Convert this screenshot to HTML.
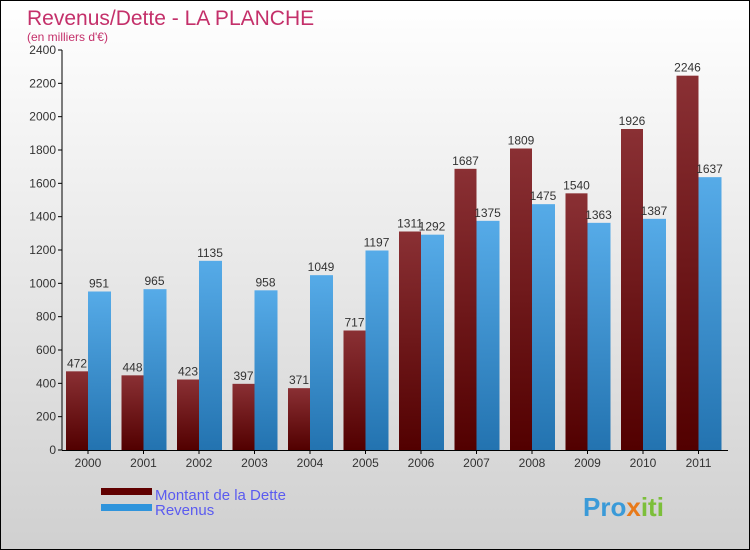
<!DOCTYPE html>
<html><head><meta charset="utf-8"><style>
body{margin:0}
#c{position:relative;width:748px;height:548px;border:1px solid #000;background:linear-gradient(#ffffff,#d0d0d0);font-family:"Liberation Sans",sans-serif;overflow:hidden}
</style></head><body>
<div id="c">
<svg id="s" width="748" height="548">
<defs>
<linearGradient id="gd" x1="0" y1="0" x2="0" y2="1"><stop offset="0" stop-color="#8a3034"/><stop offset="1" stop-color="#520000"/></linearGradient>
<linearGradient id="gr" x1="0" y1="0" x2="0" y2="1"><stop offset="0" stop-color="#56abe8"/><stop offset="1" stop-color="#2373b0"/></linearGradient>
</defs>
<text x="26" y="24" font-size="21" fill="#c4306a">Revenus/Dette - LA PLANCHE</text>
<text x="26" y="40" font-size="12" fill="#c4306a">(en milliers d'€)</text>
<g id="plot"></g>
<rect x="100" y="487" width="51" height="7" fill="#600000"/>
<rect x="100" y="503" width="51" height="7" fill="#2f94dc"/>
<text x="154" y="499" font-size="15" fill="#5b5bf0">Montant de la Dette</text>
<text x="154" y="514" font-size="15" fill="#5b5bf0">Revenus</text>
<text x="582" y="515" font-size="26" font-weight="bold" fill="#3a9ad8">Pro<tspan fill="#e87a1a">x</tspan><tspan fill="#7cbf3a">iti</tspan></text>
</svg>
</div>
<script>
const years=["2000","2001","2002","2003","2004","2005","2006","2007","2008","2009","2010","2011"];
const dette=[472,448,423,397,371,717,1311,1687,1809,1540,1926,2246];
const revenus=[951,965,1135,958,1049,1197,1292,1375,1475,1363,1387,1637];
const ticks=[0,200,400,600,800,1000,1200,1400,1600,1800,2000,2200,2400];
const NS="http://www.w3.org/2000/svg";
const g=document.getElementById('plot');
const y=v=>449-v*(400/2400);
const x0=65,step=55.5;
function mk(t,a,txt){const e=document.createElementNS(NS,t);for(const k in a)e.setAttribute(k,a[k]);if(txt!==undefined)e.textContent=txt;g.appendChild(e);return e;}
ticks.forEach(t=>{
 let l=mk('line',{x1:57,x2:61,y1:y(t),y2:y(t),stroke:'#000'});
 
 
 let tx=mk('text',{x:55,y:y(t)+4,'font-size':12,fill:'#333','text-anchor':'end'},t);
 
 
});
years.forEach((yr,i)=>{
 const bx=x0+i*step;
 let b=mk('rect',{x:bx,y:y(dette[i]),width:22,height:y(0)-y(dette[i]),fill:'url(#gd)'});
 
 
 let r=mk('rect',{x:bx+22,y:y(revenus[i]),width:23,height:y(0)-y(revenus[i]),fill:'url(#gr)'});
 
 
 let t1=mk('text',{x:bx+11,y:y(dette[i])-4,'font-size':12,fill:'#333','text-anchor':'middle'},dette[i]);
 
 
 let t2=mk('text',{x:bx+33,y:y(revenus[i])-4,'font-size':12,fill:'#333','text-anchor':'middle'},revenus[i]);
 
 
 let tk=mk('line',{x1:bx+22,x2:bx+22,y1:449,y2:453,stroke:'#000'});
 
 
 let xl=mk('text',{x:bx+22,y:466,'font-size':12,fill:'#333','text-anchor':'middle'},yr);
 
 
});
let ya=mk('line',{x1:61,x2:61,y1:y(2400),y2:449,stroke:'#000'});


let xa=mk('line',{x1:61,x2:727,y1:449.5,y2:449.5,stroke:'#000'});


</script>
</body></html>
